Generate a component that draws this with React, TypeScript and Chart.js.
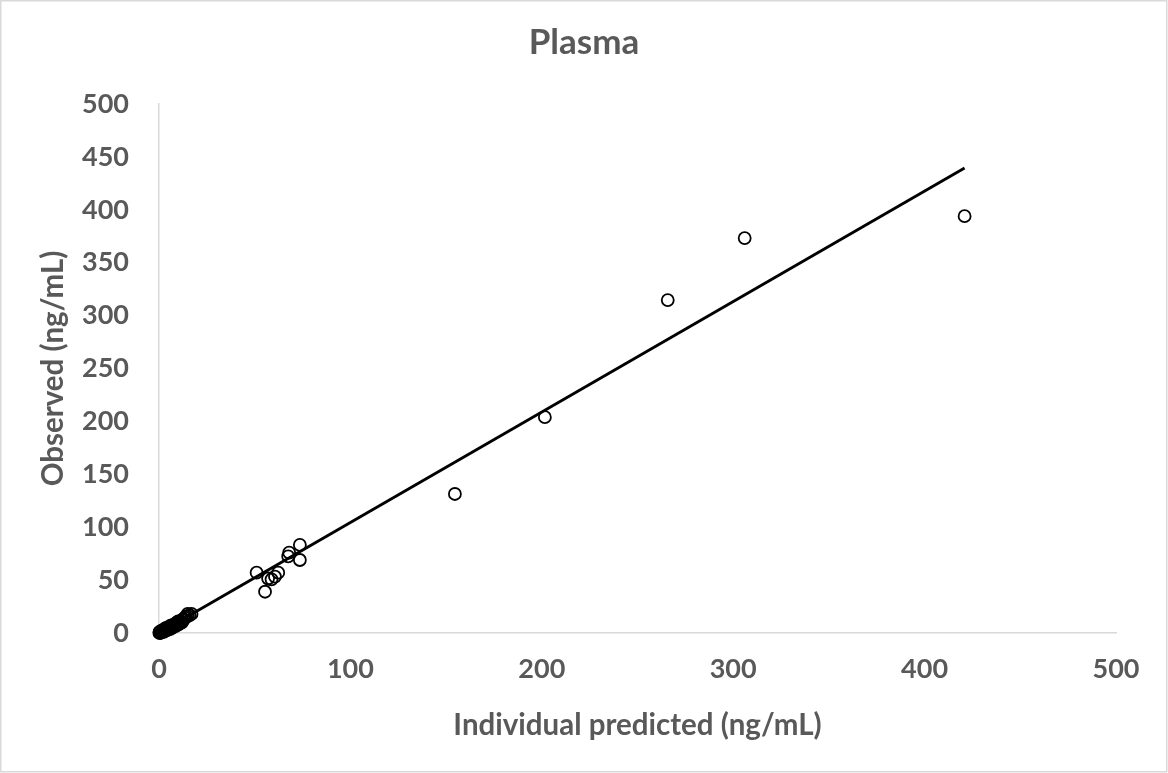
import React, { useEffect, useRef } from "react";
import { Chart, registerables } from "chart.js";

Chart.register(...registerables);

// Observed vs individual predicted (ng/mL)
const predicted: number[] = [
  0.2, 0.3, 0.5, 0.6, 0.8, 1.0, 1.0, 1.2, 1.5, 1.5, 2.0, 2.0, 2.5, 2.5, 3.0, 3.0,
  3.0, 3.5, 4.0, 4.0, 4.0, 4.5, 5.0, 5.0, 5.5, 6.0, 6.0, 6.0, 6.5, 7.0, 7.0, 7.5,
  8.0, 8.0, 8.5, 9.0, 9.0, 10.0, 10.0, 10.0, 11.0, 11.0, 12.0, 12.0, 13.0, 13.5,
  14.0, 15.0, 15.0, 16.0, 17.0,
  51.0, 55.4, 57.0, 58.8, 60.6, 62.3, 67.5, 68.0, 73.6, 73.6,
  154.6, 201.6, 265.8, 306.0, 420.9,
];
const observed: number[] = [
  0.1, 1.0, 0.3, 0.2, 0.6, 1.2, 0.4, 0.8, 1.5, 2.5, 1.8, 2.5, 2.0, 1.0, 3.0, 2.2,
  4.0, 3.8, 3.5, 2.5, 5.0, 4.2, 5.0, 3.5, 4.5, 6.0, 4.0, 7.0, 5.5, 7.5, 5.0, 6.5,
  8.0, 6.0, 7.2, 9.5, 7.0, 9.0, 8.0, 11.0, 11.0, 9.0, 12.5, 10.0, 13.0, 14.5,
  15.5, 16.0, 18.0, 17.0, 18.0,
  57.0, 39.0, 51.5, 50.7, 53.2, 57.0, 72.5, 75.9, 83.2, 69.0,
  131.4, 204.0, 314.7, 373.3, 394.0,
];

// Linear trendline end points as drawn in the picture
const trendX: number[] = [0.2, 420.9];
const trendY: number[] = [0.3, 439.5];

const axisTicks: number[] = [0, 100, 200, 300, 400, 500];

const TITLE = "Plasma";
const X_TITLE = "Individual predicted (ng/mL)";
const Y_TITLE = "Observed (ng/mL)";

const TEXT = "#595959";
const AXIS = "#d9d9d9";
const FONT = "Lato";

export default function App() {
  const ref = useRef<HTMLCanvasElement | null>(null);

  useEffect(() => {
    if (!ref.current) return;
    const frame = {
      id: "frame",
      beforeDraw(chart: any) {
        const { ctx, width, height } = chart;
        ctx.save();
        ctx.fillStyle = "#ffffff";
        ctx.fillRect(0, 0, width, height);
        ctx.strokeStyle = AXIS;
        ctx.lineWidth = 1.5;
        ctx.strokeRect(0.75, 0.75, width - 2, height - 2);
        ctx.restore();
      },
    };
    const chart = new Chart(ref.current, {
      type: "scatter",
      data: {
        datasets: [
          {
            label: "Trend",
            data: trendX.map((x, i) => ({ x, y: trendY[i] })),
            showLine: true,
            borderColor: "#000000",
            borderWidth: 2.9,
            pointRadius: 0,
            pointHoverRadius: 0,
            clip: false,
          },
          {
            label: "Observed",
            data: predicted.map((x, i) => ({ x, y: observed[i] })),
            pointStyle: "circle",
            pointRadius: 6,
            pointHoverRadius: 6,
            borderColor: "#000000",
            borderWidth: 1.8,
            backgroundColor: "rgba(0,0,0,0)",
            clip: false,
          },
        ],
      },
      options: {
        responsive: false,
        animation: false,
        layout: { padding: { left: 0, right: 0, top: 0, bottom: 0 } },
        plugins: {
          legend: { display: false },
          tooltip: { enabled: false },
          title: {
            display: true,
            text: TITLE,
            color: TEXT,
            font: { family: FONT, size: 35, weight: "bold" },
            padding: { top: 22, bottom: 40 },
          },
        },
        scales: {
          x: {
            type: "linear",
            min: 0,
            max: 500,
            afterBuildTicks: (scale: any) => {
              scale.ticks = axisTicks.map((v) => ({ value: v }));
            },
            afterFit: (scale: any) => {
              scale.height = 140;
            },
            grid: { display: false, drawTicks: false },
            border: { display: true, color: AXIS, width: 1.5 },
            ticks: {
              color: TEXT,
              font: { family: FONT, size: 27, weight: "bold" },
              padding: 20,
              maxRotation: 0,
            },
            title: {
              display: true,
              text: X_TITLE,
              color: TEXT,
              font: { family: FONT, size: 29.5, weight: "bold" },
              padding: { top: 0, bottom: 30 },
            },
          },
          y: {
            type: "linear",
            min: 0,
            max: 500,
            ticks: {
              stepSize: 50,
              color: TEXT,
              font: { family: FONT, size: 27, weight: "bold" },
              padding: 30,
            },
            afterFit: (scale: any) => {
              scale.width = 159;
            },
            grid: { display: false, drawTicks: false },
            border: { display: true, color: AXIS, width: 1.5 },
            title: {
              display: true,
              text: Y_TITLE,
              color: TEXT,
              font: { family: FONT, size: 29.5, weight: "bold" },
              padding: { top: 36, bottom: 0 },
            },
          },
          spacer: {
            type: "linear",
            position: "right",
            display: true,
            ticks: { display: false },
            grid: { display: false, drawTicks: false },
            border: { display: false },
            afterFit: (scale: any) => {
              scale.width = 52;
            },
          },
        },
      },
      plugins: [frame],
    });
    return () => chart.destroy();
  }, []);

  return (
    <div style={{ position: "absolute", left: 0, top: 0, width: 1168, height: 773 }}>
      <canvas ref={ref} width={1168} height={773} style={{ display: "block", width: 1168, height: 773 }} />
    </div>
  );
}
